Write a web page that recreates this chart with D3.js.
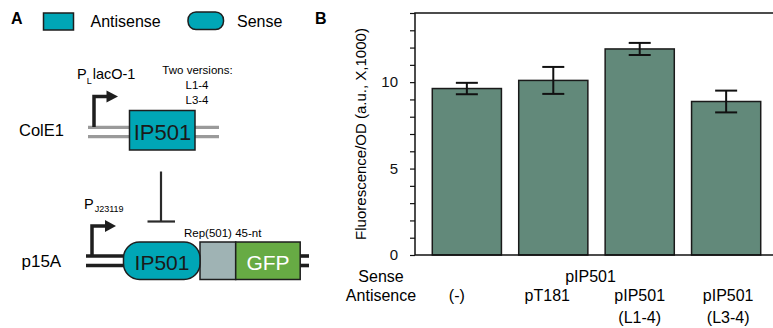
<!DOCTYPE html>
<html><head><meta charset="utf-8">
<script src="https://cdn.jsdelivr.net/npm/d3@7"></script>
<style>
html,body{margin:0;padding:0;background:#fff;}
svg{display:block;font-family:"Liberation Sans",Arial,Helvetica,sans-serif;}
</style></head>
<body><svg id="c" width="773" height="328"></svg>
<script>
// ---- data ----
const categories = ["neg", "pT181", "pIP501_L14", "pIP501_L34"];
const values = [9.63, 10.10, 11.92, 8.88];
const errors = [0.33, 0.78, 0.35, 0.63];
const antisenseLabels = [["(-)"], ["pT181"], ["pIP501", "(L1-4)"], ["pIP501", "(L3-4)"]];
const senseLabel = "pIP501";
const yTicks = [0,1,2,3,4,5,6,7,8,9,10,11,12,13,14];
const yTickLabels = [0, 5, 10];
const yLabel = "Fluorescence/OD (a.u., X,1000)";

const svg = d3.select("#c");

// ================= Panel A (diagram) =================
const teal = "#00a6b6", dark = "#1e1e1e";
const A = svg.append("g");
A.append("text").attr("x", 11).attr("y", 23.5).attr("font-size", 16).attr("font-weight", "bold").text("A");
A.append("rect").attr("x", 43.5).attr("y", 13).attr("width", 30).attr("height", 17)
  .attr("fill", teal).attr("stroke", dark).attr("stroke-width", 1.5);
A.append("text").attr("x", 90.5).attr("y", 26.5).attr("font-size", 16).text("Antisense");
A.append("rect").attr("x", 188).attr("y", 12).attr("width", 35.5).attr("height", 17.5).attr("rx", 8)
  .attr("fill", teal).attr("stroke", dark).attr("stroke-width", 1.5);
A.append("text").attr("x", 237).attr("y", 26.5).attr("font-size", 16).text("Sense");

// ColE1 construct
A.append("text").attr("x", 19).attr("y", 135.5).attr("font-size", 16.5).text("ColE1");
[127.3, 136.7].forEach(yy => A.append("line").attr("x1", 88).attr("x2", 219).attr("y1", yy).attr("y2", yy)
  .attr("stroke", "#9a9a9a").attr("stroke-width", 3.3));
A.append("path").attr("d", "M94,127 V96.5 H108").attr("fill", "none").attr("stroke", dark).attr("stroke-width", 3.5);
A.append("path").attr("d", "M106.5,90.5 L118,96.5 L106.5,102.5 Z").attr("fill", dark);
A.append("rect").attr("x", 129.5).attr("y", 110.5).attr("width", 65.5).attr("height", 39.5)
  .attr("fill", teal).attr("stroke", dark).attr("stroke-width", 1.5);
A.append("text").attr("x", 162.5).attr("y", 139.5).attr("font-size", 22).attr("text-anchor", "middle").attr("fill", "#1a1a1a").text("IP501");
const pl = A.append("text").attr("x", 77).attr("y", 78.5).attr("font-size", 14.5);
pl.append("tspan").text("P");
pl.append("tspan").attr("font-size", 9).attr("dy", 5).text("L");
pl.append("tspan").attr("dy", -5).attr("dx", 1).text("lacO-1");
A.append("text").attr("x", 197.5).attr("y", 74).attr("font-size", 11.5).attr("text-anchor", "middle").text("Two versions:");
A.append("text").attr("x", 197).attr("y", 88.5).attr("font-size", 11.5).attr("text-anchor", "middle").text("L1-4");
A.append("text").attr("x", 197).attr("y", 103.5).attr("font-size", 11.5).attr("text-anchor", "middle").text("L3-4");

// repression
A.append("line").attr("x1", 161).attr("x2", 161).attr("y1", 171.5).attr("y2", 221.5).attr("stroke", "#2a2a2a").attr("stroke-width", 2.2);
A.append("line").attr("x1", 147.5).attr("x2", 175).attr("y1", 221.5).attr("y2", 221.5).attr("stroke", "#2a2a2a").attr("stroke-width", 2.2);

// p15A construct
A.append("text").attr("x", 21.5).attr("y", 267).attr("font-size", 17).text("p15A");
[256, 265.5].forEach(yy => {
  A.append("line").attr("x1", 86).attr("x2", 124).attr("y1", yy).attr("y2", yy).attr("stroke", dark).attr("stroke-width", 3.6);
  A.append("line").attr("x1", 300).attr("x2", 309).attr("y1", yy).attr("y2", yy).attr("stroke", dark).attr("stroke-width", 3.6);
});
A.append("path").attr("d", "M92,256 V226 H107").attr("fill", "none").attr("stroke", dark).attr("stroke-width", 3.5);
A.append("path").attr("d", "M105,220 L116,226 L105,232 Z").attr("fill", dark);
const pj = A.append("text").attr("x", 84).attr("y", 208.5).attr("font-size", 14.5);
pj.append("tspan").text("P");
pj.append("tspan").attr("font-size", 9).attr("dy", 3.5).attr("dx", 1).text("J23119");
A.append("rect").attr("x", 200).attr("y", 242).attr("width", 35.7).attr("height", 37.5)
  .attr("fill", "#9fb3b4").attr("stroke", dark).attr("stroke-width", 1.5);
A.append("rect").attr("x", 235.7).attr("y", 242).attr("width", 64.5).attr("height", 37.5)
  .attr("fill", "#67ab44").attr("stroke", dark).attr("stroke-width", 1.5);
A.append("rect").attr("x", 123.5).attr("y", 242).attr("width", 76.5).attr("height", 37.5).attr("rx", 16)
  .attr("fill", teal).attr("stroke", dark).attr("stroke-width", 1.5);
A.append("text").attr("x", 162).attr("y", 270).attr("font-size", 21).attr("text-anchor", "middle").attr("fill", "#1a1a1a").text("IP501");
A.append("text").attr("x", 268).attr("y", 270).attr("font-size", 21).attr("text-anchor", "middle").attr("fill", "#fff").text("GFP");
A.append("text").attr("x", 184).attr("y", 236.5).attr("font-size", 11.5).text("Rep(501) 45-nt");

// ================= Panel B (chart) =================
const pLeft = 415, pRight = 778, pTop = 13, pBottom = 255;
const x = d3.scaleBand().domain(categories).range([pLeft, pRight]).paddingInner(0.2).paddingOuter(0.2);
const y = d3.scaleLinear().domain([0, 14]).range([pBottom, pTop]);

svg.append("text").attr("x", 315).attr("y", 23.5).attr("font-size", 16).attr("font-weight", "bold").text("B");

// bars
svg.append("g").selectAll("rect").data(values).join("rect")
  .attr("x", (d, i) => x(categories[i]))
  .attr("y", d => y(d))
  .attr("width", x.bandwidth())
  .attr("height", d => y(0) - y(d))
  .attr("fill", "#62897a").attr("stroke", "#1a1a1a").attr("stroke-width", 1.5);

// error bars
const eb = svg.append("g").attr("stroke", "#111").attr("stroke-width", 2);
values.forEach((v, i) => {
  const cx = x(categories[i]) + x.bandwidth() / 2;
  const hw = 11;
  eb.append("line").attr("x1", cx).attr("x2", cx).attr("y1", y(v + errors[i])).attr("y2", y(v - errors[i]));
  eb.append("line").attr("x1", cx - hw).attr("x2", cx + hw).attr("y1", y(v + errors[i])).attr("y2", y(v + errors[i]));
  eb.append("line").attr("x1", cx - hw).attr("x2", cx + hw).attr("y1", y(v - errors[i])).attr("y2", y(v - errors[i]));
});

// axes
const yAxis = d3.axisLeft(y).tickValues(yTicks).tickSize(5).tickPadding(12)
  .tickFormat(d => yTickLabels.includes(d) ? d : "");
const gy = svg.append("g").attr("transform", `translate(${pLeft},0)`).call(yAxis);
gy.select(".domain").remove();
gy.selectAll(".tick line").attr("stroke", "#111").attr("stroke-width", 1.2);
gy.selectAll(".tick text").attr("font-size", 15).attr("fill", "#111")
  .attr("font-family", "'Liberation Sans',Arial,sans-serif");
svg.append("line").attr("x1", pLeft).attr("x2", pLeft).attr("y1", pTop).attr("y2", pBottom).attr("stroke", "#111").attr("stroke-width", 1.5);
svg.append("line").attr("x1", pLeft).attr("x2", 773).attr("y1", pBottom).attr("y2", pBottom).attr("stroke", "#111").attr("stroke-width", 1.5);
svg.append("line").attr("x1", pLeft - 0.75).attr("x2", 773).attr("y1", pTop).attr("y2", pTop).attr("stroke", "#111").attr("stroke-width", 1.5);

// y label
svg.append("text").attr("transform", `translate(366,${(pTop + pBottom) / 2}) rotate(-90)`)
  .attr("text-anchor", "middle").attr("font-size", 15).text(yLabel);

// bottom labels
svg.append("text").attr("x", 381).attr("y", 282).attr("font-size", 16).attr("text-anchor", "middle").text("Sense");
svg.append("text").attr("x", 381).attr("y", 301).attr("font-size", 16).attr("text-anchor", "middle").text("Antisence");
const xmid = (x(categories[0]) + x(categories[categories.length - 1]) + x.bandwidth()) / 2;
svg.append("text").attr("x", xmid - 6).attr("y", 282).attr("font-size", 16).attr("text-anchor", "middle").text(senseLabel);
const nudge = [-10, -6, 0, 2];
antisenseLabels.forEach((lines, i) => {
  const cx = x(categories[i]) + x.bandwidth() / 2 + nudge[i];
  lines.forEach((t, j) => svg.append("text").attr("x", cx).attr("y", 301 + j * 22)
    .attr("font-size", 16).attr("text-anchor", "middle").text(t));
});
</script></body></html>
